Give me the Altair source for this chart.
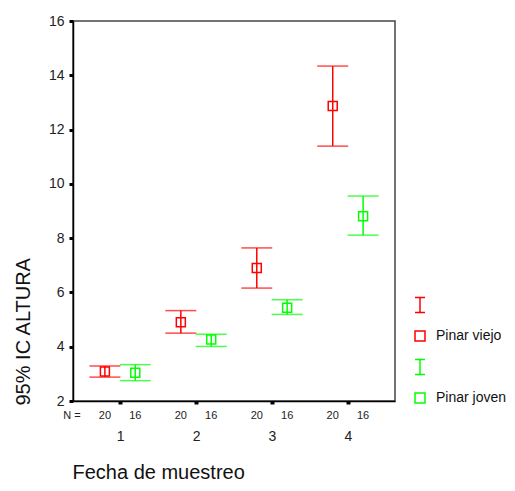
import altair as alt
import pandas as pd

fecha = [1, 2, 3, 4]
viejo_media = [3.09, 4.90, 6.90, 12.87]
viejo_inf = [2.88, 4.50, 6.16, 11.39]
viejo_sup = [3.29, 5.33, 7.64, 14.34]
joven_media = [3.04, 4.27, 5.44, 8.81]
joven_inf = [2.75, 4.01, 5.19, 8.11]
joven_sup = [3.34, 4.46, 5.73, 9.55]
n_viejo = [20, 20, 20, 20]
n_joven = [16, 16, 16, 16]
grupos = ["Pinar viejo", "Pinar joven"]
leg_items = ["IC viejo", "Pinar viejo", "IC joven", "Pinar joven"]
y_ticks = [2, 4, 6, 8, 10, 12, 14, 16]

rows = []
for i, f in enumerate(fecha):
    rows.append({"fecha": f, "grupo": grupos[0], "media": viejo_media[i],
                 "inf": viejo_inf[i], "sup": viejo_sup[i], "n": n_viejo[i]})
    rows.append({"fecha": f, "grupo": grupos[1], "media": joven_media[i],
                 "inf": joven_inf[i], "sup": joven_sup[i], "n": n_joven[i]})
df = pd.DataFrame(rows)

RED = "#ff0000"
GREEN = "#00ff00"
FONT = "Liberation Sans"

X = alt.X("xpos:Q",
          scale=alt.Scale(domain=[0.38, 4.62], nice=False, zero=False),
          axis=alt.Axis(values=fecha, title="Fecha de muestreo", grid=False,
                        labelFontSize=14, labelPadding=25, tickSize=3, tickWidth=4,
                        tickColor="black", domainColor="black", domainWidth=1.5,
                        titleFontSize=20, titleFontWeight="normal",
                        titleAnchor="start", titleAlign="left", titleX=-1, titleY=77,
                        titleBaseline="alphabetic"))
Y = alt.Y("media:Q",
          scale=alt.Scale(domain=[2, 16], nice=False, zero=False),
          axis=alt.Axis(values=y_ticks, title="95% IC ALTURA", grid=False,
                        labelFontSize=14, labelPadding=5, tickSize=4, tickWidth=3,
                        tickColor="black", domainColor="black", domainWidth=1.5,
                        titleFontSize=20, titleFontWeight="normal", titleAngle=-90,
                        titleAlign="left", titleBaseline="alphabetic",
                        titleX=-44, titleY=384))

base = alt.Chart(df).transform_calculate(
    xpos="datum.fecha + (datum.grupo == 'Pinar viejo' ? -0.2 : 0.2)"
)

YS = alt.Scale(domain=[2, 16], nice=False, zero=False)
layers = []
for g, c in zip(grupos, [RED, GREEN]):
    b = base.transform_filter(alt.datum.grupo == g)
    layers.append(b.mark_rule(color=c, strokeWidth=1.5).encode(
        x=X, y=alt.Y("inf:Q", scale=YS), y2="sup:Q"))
    layers.append(b.mark_tick(color=c, orient="horizontal", size=31, thickness=1.5).encode(
        x=X, y=alt.Y("inf:Q", scale=YS)))
    layers.append(b.mark_tick(color=c, orient="horizontal", size=31, thickness=1.5).encode(
        x=X, y=alt.Y("sup:Q", scale=YS)))
    layers.append(b.mark_point(color=c, shape="square", filled=False, size=81,
                               strokeWidth=1.5, opacity=1).encode(x=X, y=Y))

n_text = base.mark_text(fontSize=11, font=FONT, baseline="middle", color="#222").encode(
    x=X, y=alt.value(395), text="n:Q")

n_label = alt.Chart(pd.DataFrame({"t": ["N ="]})).mark_text(
    fontSize=11, font=FONT, baseline="middle", color="#222").encode(
    x=alt.value(-1), y=alt.value(395), text="t:N")

ipath = "M-1,-1.5H1M0,-1.5V1.5M-1,1.5H1"
leg_df = pd.DataFrame({"leg": leg_items, "xpos": [0.0] * 4, "media": [2.0] * 4})
legend = alt.Legend(title=None, orient="none", legendX=340, legendY=277,
                    symbolSize=100, symbolStrokeWidth=1.5, labelFontSize=14,
                    labelFont=FONT, labelOffset=9, rowPadding=12, padding=0,
                    labelColor="#111",
                    labelExpr="indexof(datum.label, 'IC') >= 0 ? '' : datum.label")
leg_layer = alt.Chart(leg_df).mark_point(filled=False, clip=True, strokeWidth=1.5,
                                         size=100, opacity=1).encode(
    x=X, y=Y,
    color=alt.Color("leg:N", scale=alt.Scale(domain=leg_items,
                                             range=[RED, RED, GREEN, GREEN]),
                    legend=legend),
    shape=alt.Shape("leg:N", scale=alt.Scale(domain=leg_items,
                                             range=[ipath, "square", ipath, "square"]),
                    legend=legend),
)

chart = alt.layer(*layers, n_text, n_label, leg_layer).properties(
    width=322, height=380,
    autosize=alt.AutoSizeParams(type="none"),
    padding={"left": 65, "top": 13, "right": 112, "bottom": 82},
).configure_view(
    stroke="#444444", strokeWidth=1.5
).configure_axis(
    labelFont=FONT, titleFont=FONT, labelColor="#222", titleColor="#111"
)

chart.save("out.html", embed_options={"renderer": "svg", "actions": False})
